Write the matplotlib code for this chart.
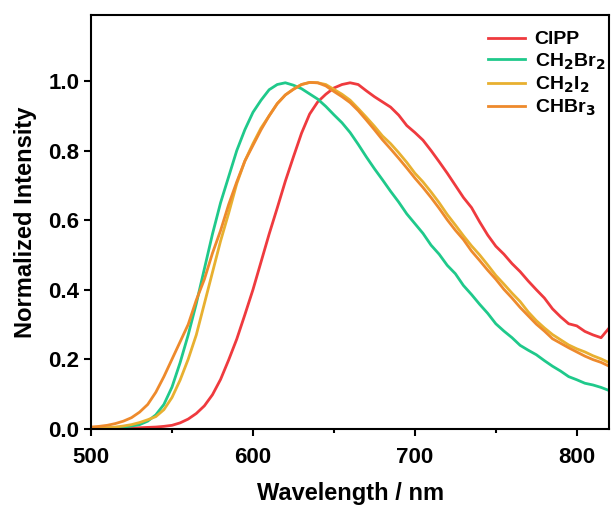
import matplotlib
matplotlib.use('Agg')
import matplotlib.pyplot as plt
import numpy as np
from matplotlib.ticker import MultipleLocator

plt.rcParams.update({
    'font.family': 'Liberation Sans',
    'font.weight': 'bold',
    'mathtext.default': 'bf',
    'axes.linewidth': 1.5,
})

wavelength = np.arange(500, 821, 5)

clpp = [0.000, 0.000, 0.001, 0.001, 0.002, 0.002, 0.003, 0.004, 0.005, 0.007,
        0.010, 0.017, 0.028, 0.044, 0.066, 0.098, 0.142, 0.198, 0.258, 0.328,
        0.400, 0.480, 0.560, 0.635, 0.712, 0.782, 0.850, 0.905, 0.940, 0.962,
        0.980, 0.990, 0.995, 0.990, 0.972, 0.955, 0.940, 0.925, 0.902, 0.872,
        0.852, 0.830, 0.800, 0.768, 0.735, 0.700, 0.665, 0.636, 0.595, 0.557,
        0.525, 0.502, 0.475, 0.452, 0.425, 0.400, 0.376, 0.345, 0.322, 0.302,
        0.296, 0.280, 0.270, 0.262, 0.290]

ch2br2 = [0.000, 0.001, 0.002, 0.003, 0.005, 0.008, 0.012, 0.022, 0.040, 0.070,
          0.120, 0.190, 0.270, 0.360, 0.460, 0.560, 0.650, 0.725, 0.800, 0.860,
          0.910, 0.945, 0.975, 0.990, 0.995, 0.988, 0.978, 0.963, 0.948, 0.927,
          0.903, 0.880, 0.852, 0.818, 0.782, 0.748, 0.716, 0.683, 0.652, 0.618,
          0.590, 0.562, 0.528, 0.502, 0.470, 0.446, 0.412, 0.386, 0.358, 0.332,
          0.302, 0.281, 0.262, 0.240, 0.226, 0.213, 0.196, 0.180, 0.166, 0.150,
          0.141, 0.131, 0.126, 0.119, 0.110]

ch2i2 = [0.000, 0.001, 0.003, 0.005, 0.008, 0.012, 0.018, 0.026, 0.035, 0.055,
         0.090, 0.140, 0.200, 0.270, 0.360, 0.450, 0.540, 0.620, 0.705, 0.770,
         0.820, 0.865, 0.900, 0.935, 0.960, 0.977, 0.990, 0.996, 0.995, 0.990,
         0.976, 0.962, 0.945, 0.921, 0.896, 0.870, 0.842, 0.820, 0.794, 0.766,
         0.735, 0.710, 0.681, 0.650, 0.616, 0.586, 0.555, 0.526, 0.500, 0.471,
         0.441, 0.416, 0.390, 0.366, 0.336, 0.311, 0.290, 0.271, 0.256, 0.241,
         0.230, 0.221, 0.210, 0.201, 0.190]

chbr3 = [0.005, 0.007, 0.010, 0.015, 0.022, 0.032, 0.048, 0.070, 0.105, 0.150,
         0.200, 0.250, 0.300, 0.370, 0.430, 0.505, 0.570, 0.645, 0.710, 0.770,
         0.815, 0.860, 0.900, 0.935, 0.960, 0.976, 0.990, 0.996, 0.995, 0.986,
         0.970, 0.955, 0.938, 0.915, 0.888, 0.860, 0.831, 0.805, 0.778, 0.750,
         0.721, 0.694, 0.665, 0.634, 0.601, 0.571, 0.544, 0.511, 0.484, 0.456,
         0.430, 0.401, 0.376, 0.349, 0.325, 0.301, 0.281, 0.259, 0.246, 0.233,
         0.221, 0.209, 0.199, 0.191, 0.180]

labels = ['ClPP', 'CH$_2$Br$_2$', 'CH$_2$I$_2$', 'CHBr$_3$']
colors = ['#EF3A3E', '#1FC98B', '#E8B030', '#EE8A2C']

fig = plt.figure(figsize=(6.11, 5.16), dpi=100)
ax = fig.add_axes([0.149, 0.169, 0.848, 0.802])

for y, lab, c in zip([clpp, ch2br2, ch2i2, chbr3], labels, colors):
    ax.plot(wavelength, y, color=c, lw=2, label=lab)

ax.set_xlim(500, 820)
ax.set_ylim(0, 1.19)
ax.xaxis.set_major_locator(MultipleLocator(100))
ax.xaxis.set_minor_locator(MultipleLocator(50))
ax.yaxis.set_major_locator(MultipleLocator(0.2))
ax.tick_params(which='major', direction='out', length=5, width=1.5, labelsize=16)
ax.tick_params(which='minor', direction='out', length=3, width=1.5)
ax.tick_params(axis='x', pad=8)
for t in ax.get_xticklabels() + ax.get_yticklabels():
    t.set_fontweight('bold')

ax.set_xlabel('Wavelength / nm', fontsize=17, fontweight='bold', labelpad=10)
ax.set_ylabel('Normalized Intensity', fontsize=17, fontweight='bold', labelpad=8)

# legend sits tight in the top right corner
ax.legend(loc='upper right', bbox_to_anchor=(1.015, 0.99), frameon=False,
          fontsize=14, handlelength=1.9, labelspacing=0.15,
          borderaxespad=0.2, handletextpad=0.5)

fig.savefig('out.png', dpi=100)
